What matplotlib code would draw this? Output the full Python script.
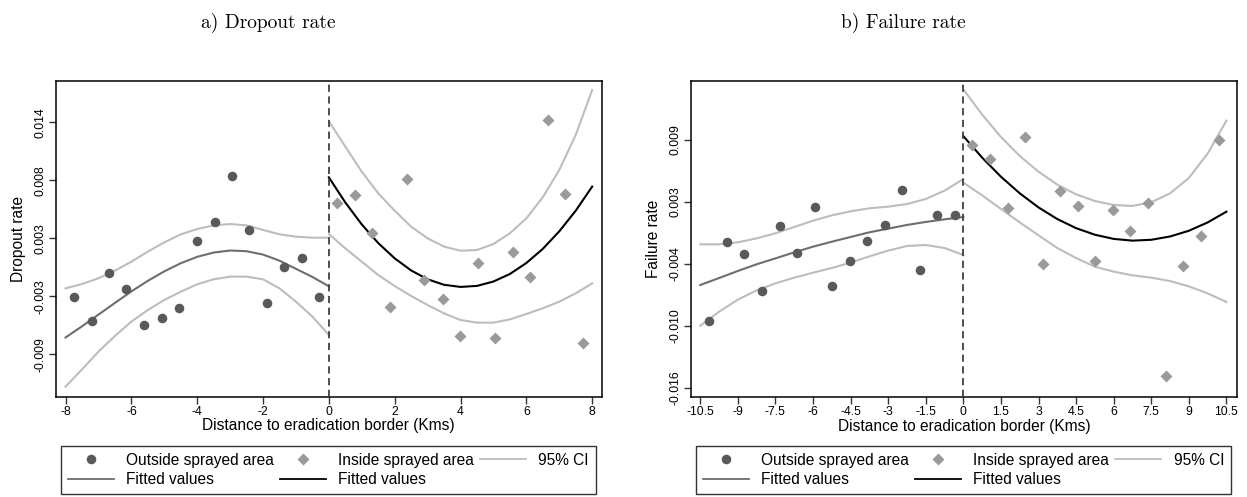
import matplotlib.pyplot as plt
from matplotlib.lines import Line2D

plt.rcParams['font.family'] = ['Liberation Sans', 'DejaVu Sans']
plt.rcParams['axes.unicode_minus'] = False

# ---- a) dropout rate: binned means by distance (km) ----
drop_out_x = [-7.74, -7.21, -6.69, -6.15, -5.62, -5.08, -4.55, -4.00, -3.47, -2.94, -2.42, -1.89, -1.36, -0.82, -0.29]
drop_out_y = [-0.0032, -0.00556, -0.00081, -0.00238, -0.00595, -0.00526, -0.00425, 0.00236, 0.00417, 0.00875,
              0.00339, -0.00379, -0.00022, 0.00069, -0.00317]
drop_in_x = [0.25, 0.79, 1.32, 1.85, 2.38, 2.90, 3.46, 3.99, 4.52, 5.06, 5.58, 6.12, 6.66, 7.18, 7.72]
drop_in_y = [0.00604, 0.00685, 0.00309, -0.00412, 0.00843, -0.00153, -0.00337, -0.00697, 0.00017, -0.00717,
             0.00125, -0.00120, 0.01420, 0.00692, -0.00772]

# quadratic fits and 95% CI
drop_grid_out = [-8, -7.5, -7, -6.5, -6, -5.5, -5, -4.5, -4, -3.5, -3, -2.5, -2, -1.5, -1, -0.5, 0]
drop_fit_out = [-0.00715, -0.00605, -0.00490, -0.00375, -0.00262, -0.00158, -0.00065, 0.00015, 0.00078, 0.00120,
                0.00140, 0.00133, 0.00100, 0.00040, -0.00040, -0.00120, -0.00212]
drop_hi_out = [-0.00232, -0.00189, -0.00133, -0.00058, 0.00030, 0.00129, 0.00220, 0.00299, 0.00351, 0.00387,
               0.00400, 0.00387, 0.00342, 0.00299, 0.00276, 0.00266, 0.00266]
drop_lo_out = [-0.01198, -0.01028, -0.00854, -0.00700, -0.00559, -0.00445, -0.00346, -0.00265, -0.00192, -0.00143,
               -0.00117, -0.00117, -0.00143, -0.00232, -0.00363, -0.00510, -0.00690]
drop_grid_in = [0, 0.5, 1, 1.5, 2, 2.5, 3, 3.5, 4, 4.5, 5, 5.5, 6, 6.5, 7, 7.5, 8]
drop_fit_in = [0.00859, 0.00612, 0.00396, 0.00213, 0.00063, -0.00056, -0.00143, -0.00197, -0.00218, -0.00208,
               -0.00165, -0.00091, 0.00017, 0.00156, 0.00328, 0.00531, 0.00768]
drop_hi_in = [0.01410, 0.01161, 0.00915, 0.00702, 0.00532, 0.00374, 0.00260, 0.00178, 0.00138, 0.00145,
              0.00204, 0.00309, 0.00456, 0.00663, 0.00931, 0.01275, 0.01717]
drop_lo_in = [0.00302, 0.00161, 0.00030, -0.00101, -0.00209, -0.00307, -0.00396, -0.00478, -0.00543, -0.00569,
              -0.00569, -0.00537, -0.00484, -0.00428, -0.00363, -0.00281, -0.00183]

# ---- b) failure rate ----
fail_out_x = [-10.14, -9.45, -8.75, -8.04, -7.33, -6.64, -5.92, -5.23, -4.54, -3.84, -3.14, -2.43, -1.73, -1.04, -0.33]
fail_out_y = [-0.00935, -0.00123, -0.00247, -0.00629, 0.00045, -0.00233, 0.00235, -0.00577, -0.00319, -0.00116,
              0.00053, 0.00414, -0.00415, 0.00156, 0.00156]
fail_in_x = [0.35, 1.08, 1.77, 2.48, 3.17, 3.86, 4.57, 5.27, 5.96, 6.65, 7.37, 8.08, 8.78, 9.48, 10.19]
fail_in_y = [0.00878, 0.00734, 0.00225, 0.00958, -0.00347, 0.00403, 0.00246, -0.00316, 0.00207, -0.00009,
             0.00280, -0.01503, -0.00371, -0.00058, 0.00927]

fail_grid_out = [-10.5, -9.75, -9, -8.25, -7.5, -6.75, -6, -5.25, -4.5, -3.75, -3, -2.25, -1.5, -0.75, 0]
fail_fit_out = [-0.00567, -0.00495, -0.00422, -0.00353, -0.00292, -0.00230, -0.00171, -0.00120, -0.00071, -0.00023,
                0.00015, 0.00053, 0.00084, 0.00111, 0.00135]
fail_hi_out = [-0.00147, -0.00147, -0.00126, -0.00085, -0.00033, 0.00032, 0.00097, 0.00152, 0.00194, 0.00225,
               0.00242, 0.00269, 0.00321, 0.00407, 0.00527]
fail_lo_out = [-0.00987, -0.00842, -0.00718, -0.00622, -0.00550, -0.00491, -0.00440, -0.00391, -0.00336, -0.00271,
               -0.00212, -0.00164, -0.00154, -0.00185, -0.00257]
fail_grid_in = [0, 0.75, 1.5, 2.25, 3, 3.75, 4.5, 5.25, 6, 6.75, 7.5, 8.25, 9, 9.75, 10.5]
fail_fit_in = [0.00970, 0.00748, 0.00551, 0.00380, 0.00234, 0.00114, 0.00020, -0.00048, -0.00091, -0.00109,
               -0.00100, -0.00066, -0.00007, 0.00079, 0.00190]
fail_hi_in = [0.01453, 0.01192, 0.00961, 0.00765, 0.00603, 0.00469, 0.00369, 0.00300, 0.00259, 0.00249,
              0.00287, 0.00379, 0.00538, 0.00789, 0.01130]
fail_lo_in = [0.00490, 0.00359, 0.00218, 0.00080, -0.00054, -0.00185, -0.00288, -0.00378, -0.00429, -0.00467,
              -0.00491, -0.00526, -0.00581, -0.00653, -0.00742]

drop_xticks = [-8, -6, -4, -2, 0, 2, 4, 6, 8]
drop_yticks = [0.014, 0.0083, 0.0026, -0.0031, -0.0088]
drop_ylabels = ['0.014', '0.008', '0.003', '-0.003', '-0.009']
fail_xticks = [-10.5, -9, -7.5, -6, -4.5, -3, -1.5, 0, 1.5, 3, 4.5, 6, 7.5, 9, 10.5]
fail_xlabels = ['-10.5', '-9', '-7.5', '-6', '-4.5', '-3', '-1.5', '0', '1.5', '3', '4.5', '6', '7.5', '9', '10.5']
fail_yticks = [0.0093, 0.0029, -0.0035, -0.0099, -0.0163]
fail_ylabels = ['0.009', '0.003', '-0.004', '-0.010', '-0.016']

C_OUT = '#595959'
C_IN = '#9a9a9a'
C_CI = '#bdbdbd'
C_FIT_OUT = '#6e6e6e'
C_FIT_IN = '#000000'


def panel(ax, xo, yo, xi, yi, curves, xlim, ylim, xt, xtl, yt, ytl, ylabel):
    for g, f, lo, hi, col in curves:
        ax.plot(g, lo, color=C_CI, lw=1.5, zorder=1)
        ax.plot(g, hi, color=C_CI, lw=1.5, zorder=1)
        ax.plot(g, f, color=col, lw=1.5, zorder=2)
    ax.plot(xo, yo, 'o', color=C_OUT, ms=6.9, mec='none', zorder=3)
    ax.plot(xi, yi, 'D', color=C_IN, ms=6.5, mec='none', zorder=3)
    ax.axvline(0, color='#404040', lw=1.3, ls=(0, (4, 2.5)), zorder=4)
    ax.set_xlim(*xlim)
    ax.set_ylim(*ylim)
    ax.set_xticks(xt)
    ax.set_xticklabels(xtl)
    ax.set_yticks(yt)
    ax.set_yticklabels(ytl, rotation=90, va='center')
    ax.tick_params(labelsize=8.8, length=5, width=1, pad=1.5, color='#333333')
    for sp in ax.spines.values():
        sp.set_linewidth(1.1)
    ax.set_ylabel(ylabel, fontsize=11.2, va='center')
    ax.yaxis.set_label_coords(-0.069, 0.5)
    ax.set_xlabel('Distance to eradication border (Kms)', fontsize=11.2, va='center')
    ax.xaxis.set_label_coords(0.5, -0.092)

    # legend filled column-wise, so order gives rows: dots / diamonds / CI, then the two fits
    h = [Line2D([], [], marker='o', ls='none', color=C_OUT, ms=6.9, mec='none'),
         Line2D([], [], color=C_FIT_OUT, lw=1.3),
         Line2D([], [], marker='D', ls='none', color=C_IN, ms=6.5, mec='none'),
         Line2D([], [], color=C_FIT_IN, lw=1.3),
         Line2D([], [], color=C_CI, lw=1.3)]
    labs = ['Outside sprayed area', 'Fitted values', 'Inside sprayed area', 'Fitted values', '95% CI']
    pos = ax.get_position()
    leg = ax.legend(h, labs, loc='upper left', ncol=3, mode='expand',
                    bbox_to_anchor=(pos.x0 + 5 / 1247, 1 - 445.7 / 497, 535 / 1247, 0),
                    bbox_transform=fig.transFigure, fontsize=11.2, frameon=True, fancybox=False,
                    borderaxespad=0, borderpad=0.45, labelspacing=0.3, handlelength=2.95,
                    handletextpad=0.8, columnspacing=0.5)
    leg.get_frame().set_edgecolor('black')
    leg.get_frame().set_linewidth(1.0)


fig = plt.figure(figsize=(12.47, 4.97), dpi=100)
ax1 = fig.add_axes([55.7 / 1247, 1 - 396.7 / 497, 546 / 1247, 316 / 497])
ax2 = fig.add_axes([691 / 1247, 1 - 397.3 / 497, 545.7 / 1247, 316.6 / 497])

panel(ax1, drop_out_x, drop_out_y, drop_in_x, drop_in_y,
      [(drop_grid_out, drop_fit_out, drop_lo_out, drop_hi_out, C_FIT_OUT),
       (drop_grid_in, drop_fit_in, drop_lo_in, drop_hi_in, C_FIT_IN)],
      (-8.30, 8.29), (-0.01297, 0.01809),
      drop_xticks, [str(t) for t in drop_xticks], drop_yticks, drop_ylabels, 'Dropout rate')
panel(ax2, fail_out_x, fail_out_y, fail_in_x, fail_in_y,
      [(fail_grid_out, fail_fit_out, fail_lo_out, fail_hi_out, C_FIT_OUT),
       (fail_grid_in, fail_fit_in, fail_lo_in, fail_hi_in, C_FIT_IN)],
      (-10.87, 10.91), (-0.01726, 0.01542),
      fail_xticks, fail_xlabels, fail_yticks, fail_ylabels, 'Failure rate')

fig.text(268 / 1247, 1 - 28 / 497, 'a) Dropout rate', ha='center', va='baseline', family='cmr10', fontsize=14)
fig.text(903 / 1247, 1 - 28 / 497, 'b) Failure rate', ha='center', va='baseline', family='cmr10', fontsize=14)

fig.savefig('out.png', dpi=100)
